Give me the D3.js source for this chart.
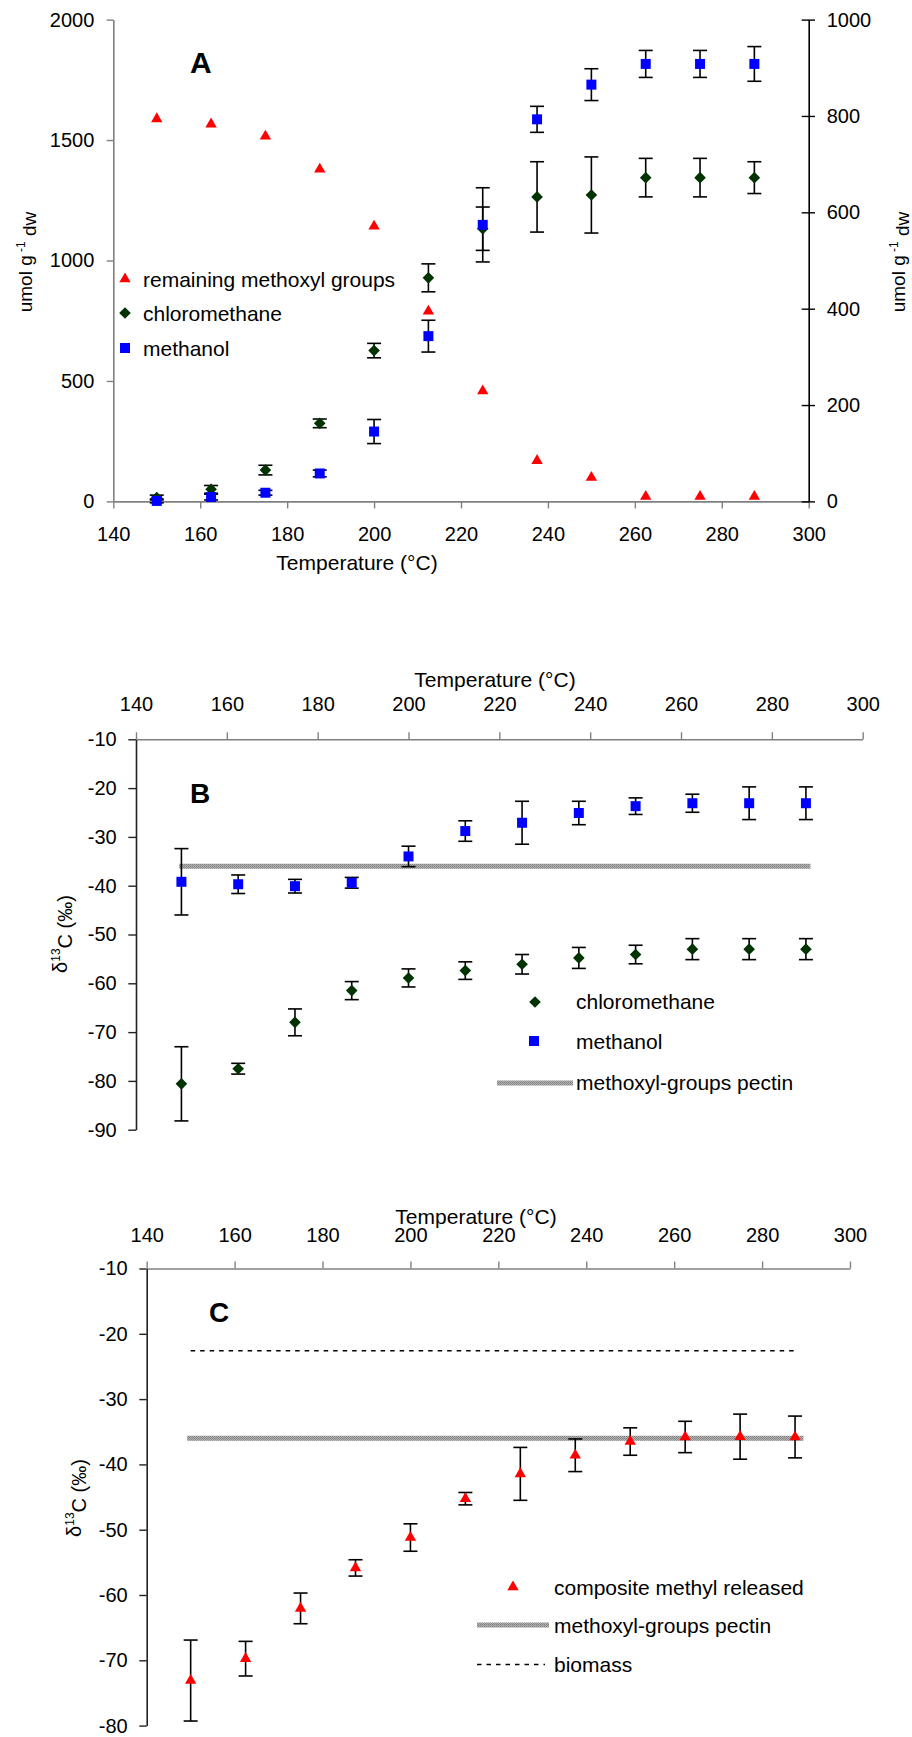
<!DOCTYPE html>
<html>
<head>
<meta charset="utf-8">
<script src="https://cdn.jsdelivr.net/npm/d3@7"></script>
<style>
  body { margin: 0; background: #fff; }
  svg { display: block; font-family: "Liberation Sans", Arial, sans-serif; }
</style>
</head>
<body>
<div id="chart"></div>
<script>
// ---- data ----
const temps = [150, 162.5, 175, 187.5, 200, 212.5, 225, 237.5, 250, 262.5, 275, 287.5];
const xTicks = [140, 160, 180, 200, 220, 240, 260, 280, 300];

// panel A (umol g-1 dw)
const remainingMethoxyl = [1588, 1566, 1516, 1379, 1142, 789, 458, 169, 99, 20, 20, 20];
const chloromethaneA = [8, 25, 65, 162, 313, 464, 566, 632, 636, 672, 672, 672];
const chloromethaneAErr = [5, 8, 10, 9, 15, 29, 45, 73, 79, 40, 40, 33];
const methanolA = [1, 9, 18, 58, 145, 343, 574, 793, 865, 908, 908, 908];
const methanolAErr = [4, 6, 5, 7, 25, 33, 77, 27, 33, 28, 28, 36];
const leftTicksA = [0, 500, 1000, 1500, 2000];
const rightTicksA = [0, 200, 400, 600, 800, 1000];

// panel B (delta 13C)
const methanolB = [-39.2, -39.7, -40.1, -39.4, -34.0, -28.8, -27.1, -25.1, -23.7, -23.1, -23.1, -23.1];
const methanolBErr = [6.8, 1.9, 1.4, 1.1, 2.1, 2.1, 4.4, 2.4, 1.7, 1.85, 3.35, 3.35];
const chloromethaneB = [-80.6, -77.5, -68.0, -61.5, -58.9, -57.4, -56.1, -54.8, -54.1, -53.0, -53.0, -53.0];
const chloromethaneBErr = [7.6, 1.1, 2.75, 1.85, 1.85, 1.8, 2.0, 2.15, 1.9, 2.15, 2.15, 2.15];
const pectinB = [149.5, 288.5];
const pectinValue = -36;
const yTicksB = [-90, -80, -70, -60, -50, -40, -30, -20, -10];

// panel C
const compositeC = [-73.1, -69.75, -62.05, -55.85, -51.2, -45.25, -41.45, -38.6, -36.5, -35.8, -35.75, -35.8];
const compositeCErr = [6.2, 2.65, 2.35, 1.25, 2.1, 0.95, 4.05, 2.5, 2.1, 2.4, 3.45, 3.2];
const pectinC = [149.2, 289.4];
const biomassC = [150, 288];
const biomassValue = -22.6;
const yTicksC = [-80, -70, -60, -50, -40, -30, -20, -10];

// ---- setup ----
const W = 912, H = 1737;
const svg = d3.select("#chart").append("svg").attr("width", W).attr("height", H);

const RED = "#ff0000", GREEN = "#003300", BLUE = "#0000ff", GRAY = "#808080";

// textured grey for the pectin line (excel-style pattern line)
const pat = svg.append("defs").append("pattern").attr("id", "pectinPat")
    .attr("patternUnits", "userSpaceOnUse").attr("width", 2).attr("height", 2);
pat.append("rect").attr("width", 2).attr("height", 2).attr("fill", "#b4b4b4");
pat.append("rect").attr("width", 1).attr("height", 1).attr("fill", "#7c7c7c");
pat.append("rect").attr("x", 1).attr("y", 1).attr("width", 1).attr("height", 1).attr("fill", "#8c8c8c");
const PECTIN = "url(#pectinPat)";

const tri = d3.symbol().type(d3.symbolTriangle).size(56);
const sq = d3.symbol().type(d3.symbolSquare).size(100);
const diamondPath = s => `M0,${-s}L${s},0L0,${s}L${-s},0Z`;

function styleAxis(g, color) {
    g.select(".domain").attr("stroke", color).attr("stroke-width", 1.6);
    g.selectAll(".tick line").attr("stroke", color).attr("stroke-width", 1.4);
    g.selectAll(".tick text").attr("fill", "#000").style("font-size", "20px")
        .style("font-family", "'Liberation Sans', Arial, sans-serif");
}

function errorBars(g, x, y, xs, vals, errs) {
    const eg = g.append("g").attr("stroke", "#000").attr("stroke-width", 1.6).attr("fill", "none");
    xs.forEach((t, i) => {
        const cx = x(t), y0 = y(vals[i] - errs[i]), y1 = y(vals[i] + errs[i]);
        eg.append("line").attr("x1", cx).attr("x2", cx).attr("y1", y0).attr("y2", y1);
        eg.append("line").attr("x1", cx - 7).attr("x2", cx + 7).attr("y1", y0).attr("y2", y0);
        eg.append("line").attr("x1", cx - 7).attr("x2", cx + 7).attr("y1", y1).attr("y2", y1);
    });
}

function markers(g, x, y, xs, vals, kind, color) {
    g.append("g").selectAll("path")
        .data(xs.map((t, i) => [t, vals[i]]))
        .join("path")
        .attr("transform", d => `translate(${x(d[0])},${y(d[1])})`)
        .attr("d", kind === "diamond" ? diamondPath(5.8) : (kind === "square" ? sq() : tri()))
        .attr("fill", color);
}

function legendText(g, x, y, txt) {
    g.append("text").attr("x", x).attr("y", y).attr("dy", "0.36em")
        .style("font-size", "21px").text(txt);
}

function deltaLabel(g, cx, cy) {
    const t = g.append("text").attr("transform", `translate(${cx},${cy}) rotate(-90)`)
        .attr("text-anchor", "middle").attr("dy", "0.36em").style("font-size", "20px");
    t.append("tspan").text("δ");
    t.append("tspan").attr("dy", "-0.6em").style("font-size", "12px").text("13");
    t.append("tspan").attr("dy", "0.6em").text("C (‰)");
}

function umolLabel(g, cx, cy) {
    const t = g.append("text").attr("transform", `translate(${cx},${cy}) rotate(-90)`)
        .attr("text-anchor", "middle").attr("dy", "0.36em").style("font-size", "19px");
    t.append("tspan").text("umol g");
    t.append("tspan").attr("dy", "-0.6em").style("font-size", "12px").text(" -1");
    t.append("tspan").attr("dy", "0.6em").text(" dw");
}

// ================= Panel A =================
{
    const x = d3.scaleLinear().domain([140, 300]).range([113.3, 808.7]);
    const yL = d3.scaleLinear().domain([0, 2000]).range([501.4, 19.6]);
    const yR = d3.scaleLinear().domain([0, 1000]).range([501.4, 19.6]);
    const g = svg.append("g");

    const xa = g.append("g").attr("transform", "translate(0,501.4)")
        .call(d3.axisBottom(x).tickValues(xTicks).tickSize(7).tickSizeOuter(0).tickPadding(18).tickFormat(d => d));
    styleAxis(xa, GRAY);
    const la = g.append("g").attr("transform", "translate(113.3,0)")
        .call(d3.axisLeft(yL).tickValues(leftTicksA).tickSize(6.6).tickSizeOuter(0).tickPadding(12.4).tickFormat(d => d));
    styleAxis(la, GRAY);
    const ra = g.append("g").attr("transform", "translate(808.7,0)")
        .call(d3.axisRight(yR).tickValues(rightTicksA).tickSize(6.3).tickSizeOuter(0).tickPadding(11.7).tickFormat(d => d));
    ra.selectAll(".tick line").attr("x1", -7);
    styleAxis(ra, "#000");

    errorBars(g, x, yR, temps, chloromethaneA, chloromethaneAErr);
    errorBars(g, x, yR, temps, methanolA, methanolAErr);
    markers(g, x, yL, temps, remainingMethoxyl, "tri", RED);
    markers(g, x, yR, temps, chloromethaneA, "diamond", GREEN);
    markers(g, x, yR, temps, methanolA, "square", BLUE);

    g.append("text").attr("x", 190).attr("y", 73).style("font-size", "30px").style("font-weight", "bold").text("A");

    // legend
    g.append("path").attr("transform", "translate(125,279)").attr("d", tri()).attr("fill", RED);
    g.append("path").attr("transform", "translate(125,313)").attr("d", diamondPath(5.8)).attr("fill", GREEN);
    g.append("path").attr("transform", "translate(125,348)").attr("d", sq()).attr("fill", BLUE);
    legendText(g, 143, 279, "remaining methoxyl groups");
    legendText(g, 143, 313, "chloromethane");
    legendText(g, 143, 348, "methanol");

    umolLabel(g, 25, 262);
    umolLabel(g, 898, 262);

    g.append("text").attr("x", 357).attr("y", 562).attr("text-anchor", "middle")
        .attr("dy", "0.36em").style("font-size", "21px").text("Temperature (°C)");
}

// ================= Panel B =================
{
    const x = d3.scaleLinear().domain([140, 300]).range([136, 862.7]);
    const y = d3.scaleLinear().domain([-90, -10]).range([1129.7, 739.3]);
    const g = svg.append("g");

    const ta = g.append("g").attr("transform", "translate(0,739.3)")
        .call(d3.axisTop(x).tickValues(xTicks).tickSize(7).tickSizeOuter(0).tickPadding(21.5).tickFormat(d => d));
    styleAxis(ta, GRAY);
    const la = g.append("g").attr("transform", "translate(136,0)")
        .call(d3.axisLeft(y).tickValues(yTicksB).tickSize(7.7).tickSizeOuter(0).tickPadding(11.6).tickFormat(d => String(d)));
    styleAxis(la, "#222");

    g.append("line").attr("x1", x(pectinB[0])).attr("x2", x(pectinB[1]))
        .attr("y1", y(pectinValue)).attr("y2", y(pectinValue))
        .attr("stroke", PECTIN).attr("stroke-width", 5);

    errorBars(g, x, y, temps, methanolB, methanolBErr);
    errorBars(g, x, y, temps, chloromethaneB, chloromethaneBErr);
    markers(g, x, y, temps, methanolB, "square", BLUE);
    markers(g, x, y, temps, chloromethaneB, "diamond", GREEN);

    g.append("text").attr("x", 190).attr("y", 803).style("font-size", "28px").style("font-weight", "bold").text("B");

    g.append("text").attr("x", 495).attr("y", 679).attr("text-anchor", "middle")
        .attr("dy", "0.36em").style("font-size", "21px").text("Temperature (°C)");

    deltaLabel(g, 60, 934);

    // legend
    g.append("path").attr("transform", "translate(535,1002)").attr("d", diamondPath(5.8)).attr("fill", GREEN);
    g.append("path").attr("transform", "translate(534,1041)").attr("d", sq()).attr("fill", BLUE);
    g.append("line").attr("x1", 497).attr("x2", 573).attr("y1", 1083).attr("y2", 1083)
        .attr("stroke", PECTIN).attr("stroke-width", 5);
    legendText(g, 576, 1001, "chloromethane");
    legendText(g, 576, 1041, "methanol");
    legendText(g, 576, 1082, "methoxyl-groups pectin");
}

// ================= Panel C =================
{
    const x = d3.scaleLinear().domain([140, 300]).range([146.7, 850]);
    const y = d3.scaleLinear().domain([-80, -10]).range([1725.6, 1268.5]);
    const g = svg.append("g");

    const ta = g.append("g").attr("transform", "translate(0,1268.5)")
        .call(d3.axisTop(x).tickValues(xTicks).tickSize(7).tickSizeOuter(0).tickPadding(19.5).tickFormat(d => d));
    styleAxis(ta, GRAY);
    const la = g.append("g").attr("transform", "translate(146.7,0)")
        .call(d3.axisLeft(y).tickValues(yTicksC).tickSize(7.4).tickSizeOuter(0).tickPadding(11.6).tickFormat(d => String(d)));
    styleAxis(la, "#222");

    g.append("line").attr("x1", x(biomassC[0])).attr("x2", x(biomassC[1]))
        .attr("y1", y(biomassValue)).attr("y2", y(biomassValue))
        .attr("stroke", "#000").attr("stroke-width", 1.5).attr("stroke-dasharray", "4.5,5");
    g.append("line").attr("x1", x(pectinC[0])).attr("x2", x(pectinC[1]))
        .attr("y1", y(pectinValue)).attr("y2", y(pectinValue))
        .attr("stroke", PECTIN).attr("stroke-width", 5);

    errorBars(g, x, y, temps, compositeC, compositeCErr);
    markers(g, x, y, temps, compositeC, "tri", RED);

    g.append("text").attr("x", 209).attr("y", 1322).style("font-size", "28px").style("font-weight", "bold").text("C");

    // the title sits just above the tick labels, as in the original
    g.append("text").attr("x", 476).attr("y", 1216).attr("text-anchor", "middle")
        .attr("dy", "0.36em").style("font-size", "21px").text("Temperature (°C)");

    deltaLabel(g, 74, 1498);

    // legend
    g.append("path").attr("transform", "translate(513,1587)").attr("d", tri()).attr("fill", RED);
    g.append("line").attr("x1", 477).attr("x2", 549).attr("y1", 1625).attr("y2", 1625)
        .attr("stroke", PECTIN).attr("stroke-width", 5);
    g.append("line").attr("x1", 477).attr("x2", 545).attr("y1", 1664.5).attr("y2", 1664.5)
        .attr("stroke", "#000").attr("stroke-width", 1.5).attr("stroke-dasharray", "4.5,5");
    legendText(g, 554, 1587, "composite methyl released");
    legendText(g, 554, 1625, "methoxyl-groups pectin");
    legendText(g, 554, 1664, "biomass");
}
</script>
</body>
</html>
